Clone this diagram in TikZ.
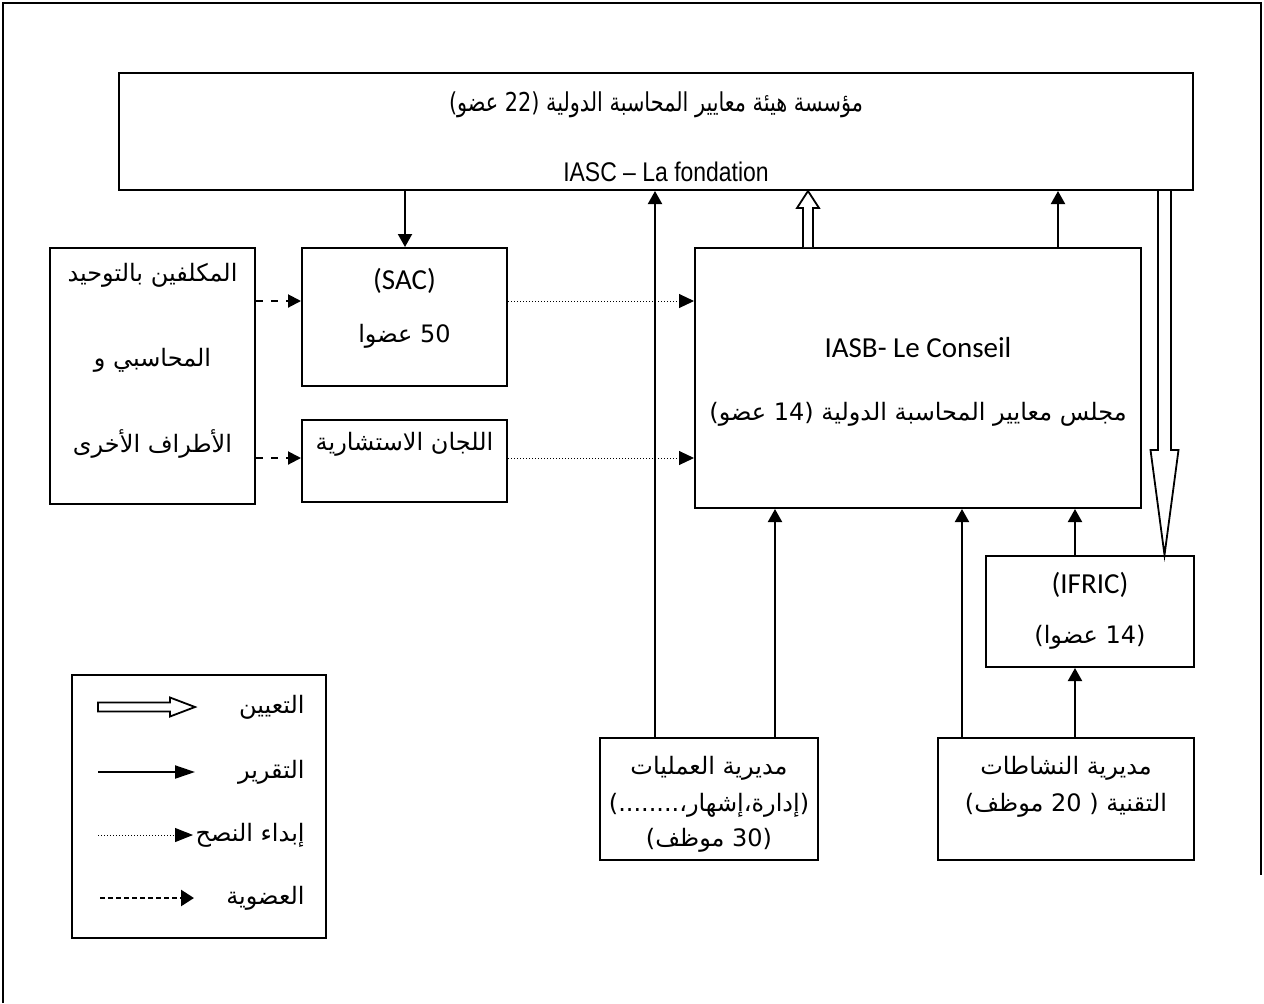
\documentclass[tikz,border=0pt]{standalone}
\usepackage{fontspec}
\setmainfont{Carlito}
\newfontfamily\ar[Script=Arabic]{DejaVu Sans}
\newfontfamily\arcond[Script=Arabic,FakeStretch=0.8]{DejaVu Sans}
\newfontfamily\latcond[FakeStretch=0.85]{Liberation Sans}
\TeXXeTstate=1
\usetikzlibrary{arrows.meta,calc}
\newcommand\RL[1]{\beginR #1\endR}
\begin{document}
\begin{tikzpicture}[x=0.5pt,y=-0.5pt,
  box/.style={draw, line width=1pt, inner sep=0pt, fill=white},
  lat/.style={inner sep=0pt, font=\fontsize{14.5}{17}\selectfont},
  arab/.style={inner sep=0pt, font=\ar\fontsize{12}{15}\selectfont},
  rep/.style={line width=1pt, -{Triangle[length=6.5pt,width=7pt]}},
  adv/.style={line width=0.5pt, dash pattern=on 0.5pt off 1pt, -{Triangle[length=7.5pt,width=7pt]}},
  mem/.style={line width=1pt, dash pattern=on 3.5pt off 4pt, -{Triangle[length=6.5pt,width=6.5pt]}},
  hollow/.style={draw, line width=0.9pt, fill=white, line join=miter}]
\useasboundingbox (0,0) rectangle (1264,1003);
% outer frame
\draw[line width=1pt] (3,1003) -- (3,3) -- (1261,3) -- (1261,875);

% boxes
\node[box, minimum width=537pt, minimum height=58.5pt] (fond) at (656,131.5) {};
\node[box, minimum width=102.5pt, minimum height=128pt] (parties) at (152.5,376) {};
\node[box, minimum width=102.5pt, minimum height=69pt] (sac) at (404.5,317) {};
\node[box, minimum width=102.5pt, minimum height=41pt] (cons) at (404.5,461) {};
\node[box, minimum width=223pt, minimum height=130pt] (iasb) at (918,378) {};
\node[box, minimum width=104pt, minimum height=55.5pt] (ifric) at (1090,611.5) {};
\node[box, minimum width=109pt, minimum height=61pt] (ops) at (709,799) {};
\node[box, minimum width=128pt, minimum height=61pt] (tech) at (1066,799) {};
\node[box, minimum width=127pt, minimum height=131.5pt] (legend) at (199,806.5) {};

% texts
\node[inner sep=0pt, font=\arcond\fontsize{13}{16}\selectfont] (fondar) at (656,105) {\RL{مؤسسة هيئة معايير المحاسبة الدولية (22 عضو)}};
\node[inner sep=0pt, font=\latcond\fontsize{13.5}{16}\selectfont] (fondlat) at (666,172) {IASC – La fondation};
\node[arab] (p1) at (152.5,275) {\RL{المكلفين بالتوحيد}};
\node[arab] (p2) at (152.5,360) {\RL{المحاسبي و}};
\node[arab] (p3) at (152.5,444) {\RL{الأطراف الأخرى}};
\node[lat] (sac1) at (404.5,281) {(SAC)};
\node[arab] (sac2) at (404.5,336) {\RL{50 عضوا}};
\node[arab] (cons1) at (404.5,444) {\RL{اللجان الاستشارية}};
\node[lat] (iasb1) at (918,348) {IASB- Le Conseil};
\node[arab] (iasb2) at (918,414) {\RL{مجلس معايير المحاسبة الدولية (14 عضو)}};
\node[lat] (ifric1) at (1090,585) {(IFRIC)};
\node[arab] (ifric2) at (1090,637) {\RL{(14 عضوا)}};
\node[arab] (ops1) at (709,768) {\RL{مديرية العمليات}};
\node[arab] (ops2) at (709,805) {\RL{(إدارة،إشهار،........)}};
\node[arab] (ops3) at (709,840) {\RL{(30 موظف)}};
\node[arab] (tech1) at (1066,768) {\RL{مديرية النشاطات}};
\node[arab] (tech2) at (1066,805) {\RL{التقنية ( 20 موظف)}};

% reference coordinates
\coordinate (x405) at (405,0);
\coordinate (x655) at (655,0);
\coordinate (x775) at (775,0);
\coordinate (x962) at (962,0);
\coordinate (x1058) at (1058,0);
\coordinate (x1075) at (1075,0);
\coordinate (ya) at (0,301);
\coordinate (yb) at (0,458);

% reporting arrows
\draw[rep] (fond.south -| x405) -- (sac.north -| x405);
\draw[rep] (ops.north -| x655) -- (fond.south -| x655);
\draw[rep] (ops.north -| x775) -- (iasb.south -| x775);
\draw[rep] (iasb.north -| x1058) -- (fond.south -| x1058);
\draw[rep] (tech.north -| x962) -- (iasb.south -| x962);
\draw[rep] (tech.north -| x1075) -- (ifric.south -| x1075);
\draw[rep] (ifric.north -| x1075) -- (iasb.south -| x1075);

% membership arrows
\draw[mem] (parties.east |- ya) -- (sac.west |- ya);
\draw[mem] (parties.east |- yb) -- (cons.west |- yb);

% advice arrows
\draw[adv] (sac.east |- ya) -- (iasb.west |- ya);
\draw[adv] (cons.east |- yb) -- (iasb.west |- yb);

% appointment arrows (hollow)
\coordinate (hx1) at (808,0);
\path (iasb.north -| hx1) coordinate (h1b) (fond.south -| hx1) coordinate (h1t);
\draw[hollow] ($(h1b)+(-5,0)$) -- ($(h1t)+(-5,17)$) -- ($(h1t)+(-11,17)$) -- (h1t) -- ($(h1t)+(11,17)$) -- ($(h1t)+(5,17)$) -- ($(h1b)+(5,0)$);
\coordinate (hx2) at (1164.5,0);
\path (fond.south -| hx2) coordinate (h2t) (ifric.north -| hx2) coordinate (h2b);
\draw[hollow] ($(h2t)+(-6.5,0)$) -- ($(h2b)+(-6.5,-105)$) -- ($(h2b)+(-14,-105)$) -- (h2b) -- ($(h2b)+(14,-105)$) -- ($(h2b)+(6.5,-105)$) -- ($(h2t)+(6.5,0)$);

% legend
\coordinate (l1a) at (98,707); \coordinate (l1b) at (195,707);
\draw[hollow] ($(l1a)+(0,-4.5)$) -- ($(l1b)+(-25,-4.5)$) -- ($(l1b)+(-25,-9.5)$) -- (l1b) -- ($(l1b)+(-25,9.5)$) -- ($(l1b)+(-25,4.5)$) -- ($(l1a)+(0,4.5)$) -- cycle;
\coordinate (l2a) at (98,772); \coordinate (l2b) at (195,772);
\draw[line width=1pt, -{Triangle[length=10pt,width=6.5pt]}] (l2a) -- (l2b);
\coordinate (l3a) at (98,835); \coordinate (l3b) at (193,835);
\draw[line width=0.5pt, dash pattern=on 0.5pt off 1pt, -{Triangle[length=9pt,width=7pt]}] (l3a) -- (l3b);
\coordinate (l4a) at (100,898); \coordinate (l4b) at (194,898);
\draw[line width=1.3pt, dash pattern=on 2.5pt off 1.5pt, -{Triangle[length=6.5pt,width=8pt]}] (l4a) -- (l4b);
\node[arab, anchor=east] (lg1) at (305,707) {\RL{التعيين}};
\node[arab, anchor=east] (lg2) at (305,772) {\RL{التقرير}};
\node[arab, anchor=east] (lg3) at (305,835) {\RL{إبداء النصح}};
\node[arab, anchor=east] (lg4) at (305,898) {\RL{العضوية}};
\end{tikzpicture}
\end{document}
